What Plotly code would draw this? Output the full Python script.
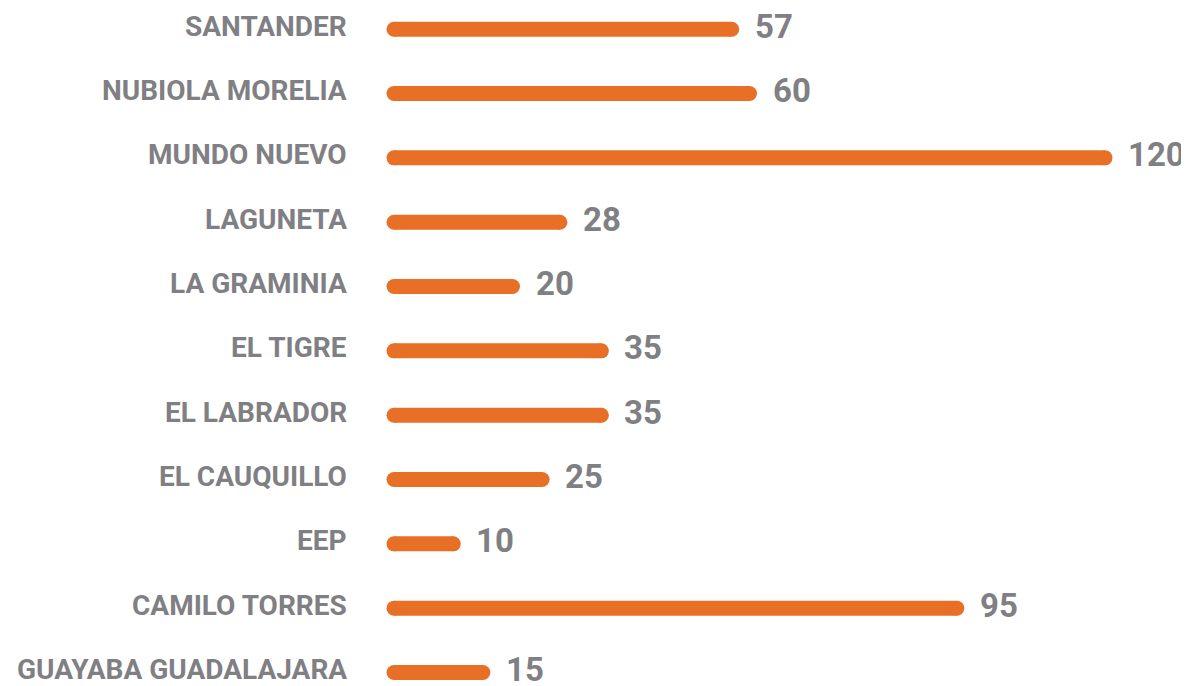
import plotly.graph_objects as go

categories = ["SANTANDER", "NUBIOLA MORELIA", "MUNDO NUEVO", "LAGUNETA", "LA GRAMINIA",
              "EL TIGRE", "EL LABRADOR", "EL CAUQUILLO", "EEP", "CAMILO TORRES",
              "GUAYABA GUADALAJARA"]
values = [57, 60, 120, 28, 20, 35, 35, 25, 10, 95, 15]

ORANGE = "#E86F26"
GRAY = "#7F7F84"
# the page body has an 8px margin, so the figure is 8px smaller and offset by 8px
OFF = 8
W, H = 1189 - OFF, 686 - OFF
ML = 360 - OFF
PX_PER_UNIT = 5.925
ZERO_PX = 394 - OFF
ROW_PX = 64.33
FIRST_ROW_PX = 29.2 - OFF

fig = go.Figure()
for cat, v in zip(categories, values):
    fig.add_trace(go.Scatter(
        x=[0, v], y=[cat, cat], mode="lines+markers",
        line=dict(color=ORANGE, width=15),
        marker=dict(color=ORANGE, size=15, line=dict(width=0)),
        hoverinfo="skip", showlegend=False, cliponaxis=False,
    ))
    fig.add_annotation(x=v, y=cat, text=str(v), showarrow=False,
                       xanchor="left", yanchor="middle", xshift=22, yshift=3,
                       borderpad=0,
                       font=dict(family="Roboto", size=33, color=GRAY, weight=700))
    fig.add_annotation(x=0, xref="paper", y=cat, text=cat, showarrow=False,
                       xanchor="right", yanchor="middle", xshift=-12, yshift=3,
                       borderpad=0,
                       font=dict(family="Roboto", size=28, color=GRAY, weight=700))

x0 = -(ZERO_PX - ML) / PX_PER_UNIT
x1 = x0 + (W - ML) / PX_PER_UNIT
ytop = -FIRST_ROW_PX / ROW_PX
ybot = ytop + H / ROW_PX

fig.update_layout(
    width=W, height=H,
    margin=dict(l=ML, r=0, t=0, b=0),
    plot_bgcolor="white", paper_bgcolor="white",
    xaxis=dict(range=[x0, x1], visible=False, fixedrange=True),
    yaxis=dict(type="category", categoryorder="array", categoryarray=categories,
               range=[ybot, ytop], showgrid=False, zeroline=False, showline=False,
               showticklabels=False, ticks="", fixedrange=True),
)

fig.write_html("out.html")
